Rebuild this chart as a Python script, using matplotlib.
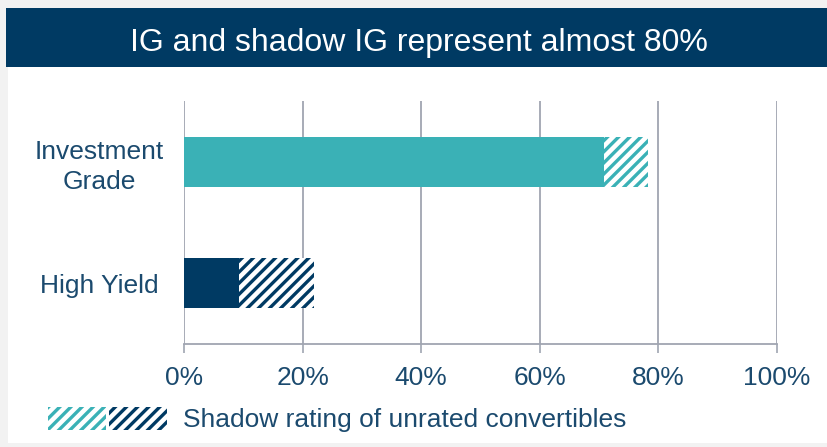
import numpy as np
import matplotlib.pyplot as plt
from matplotlib.patches import Rectangle
from matplotlib.legend_handler import HandlerTuple

plt.rcParams['font.family'] = ['Liberation Sans', 'DejaVu Sans']
plt.rcParams['hatch.linewidth'] = 2.4

# share of the convertible universe, in %
categories = ['Investment\nGrade', 'High Yield']
rated = [70.9, 9.3]
shadow = [7.3, 12.6]
xticks = [0, 20, 40, 60, 80, 100]

teal = '#3ab1b6'
navy = '#003a63'
text_col = '#1b4a6e'
grid_col = '#a0a5b1'
colors = [teal, navy]

fig = plt.figure(figsize=(8.28, 4.47), dpi=100, facecolor='#f2f2f2')

# white panel and title banner
fig.patches.append(Rectangle((8 / 828, 4 / 447), 1, 435 / 447, transform=fig.transFigure,
                             facecolor='white', edgecolor='none', zorder=-2))
fig.patches.append(Rectangle((6 / 828, 380 / 447), 1, 59 / 447, transform=fig.transFigure,
                             facecolor=navy, edgecolor='none', zorder=-1))
fig.text(0.506, 404.5 / 447, 'IG and shadow IG represent almost 80%', color='white',
         fontsize=23, ha='center', va='center')

ax = fig.add_axes([184 / 828, 103 / 447, 593 / 828, 243 / 447])
ax.set_facecolor('none')

y = np.arange(len(categories))
ax.barh(y, rated, height=0.41, color=colors, zorder=3)
ax.barh(y, shadow, left=rated, height=0.41, facecolor='white', edgecolor=colors,
        linewidth=0, hatch='///', zorder=3)

ax.set_xlim(0, 100)
ax.set_ylim(1.5, -0.5)
ax.set_xticks(xticks)
ax.set_xticklabels([f'{t}%' for t in xticks], fontsize=19, color=text_col)
ax.set_yticks(y)
ax.set_yticklabels(categories, fontsize=19, color=text_col, ha='center', linespacing=1.3)
ax.tick_params(axis='y', length=0, pad=61)
ax.tick_params(axis='x', length=6.5, width=1.2, color=grid_col, pad=9)

ax.grid(axis='x', color=grid_col, linewidth=1.3, zorder=0)
for side in ['top', 'right', 'left']:
    ax.spines[side].set_visible(False)
ax.spines['bottom'].set_color(grid_col)
ax.spines['bottom'].set_linewidth(1.3)

# legend: both hatched swatches side by side
h1 = Rectangle((0, 0), 1, 1, facecolor='white', edgecolor=teal, linewidth=0, hatch='///')
h2 = Rectangle((0, 0), 1, 1, facecolor='white', edgecolor=navy, linewidth=0, hatch='///')
leg = fig.legend([(h1, h2)], ['Shadow rating of unrated convertibles'],
                 handler_map={tuple: HandlerTuple(ndivide=None, pad=0.12)},
                 loc='center left', bbox_to_anchor=(48 / 828, 27.5 / 447),
                 frameon=False, fontsize=19, handlelength=4.5, handleheight=1.0,
                 handletextpad=0.6, borderpad=0, borderaxespad=0)
for t in leg.get_texts():
    t.set_color(text_col)

fig.savefig('out.png', dpi=100, facecolor=fig.get_facecolor())
